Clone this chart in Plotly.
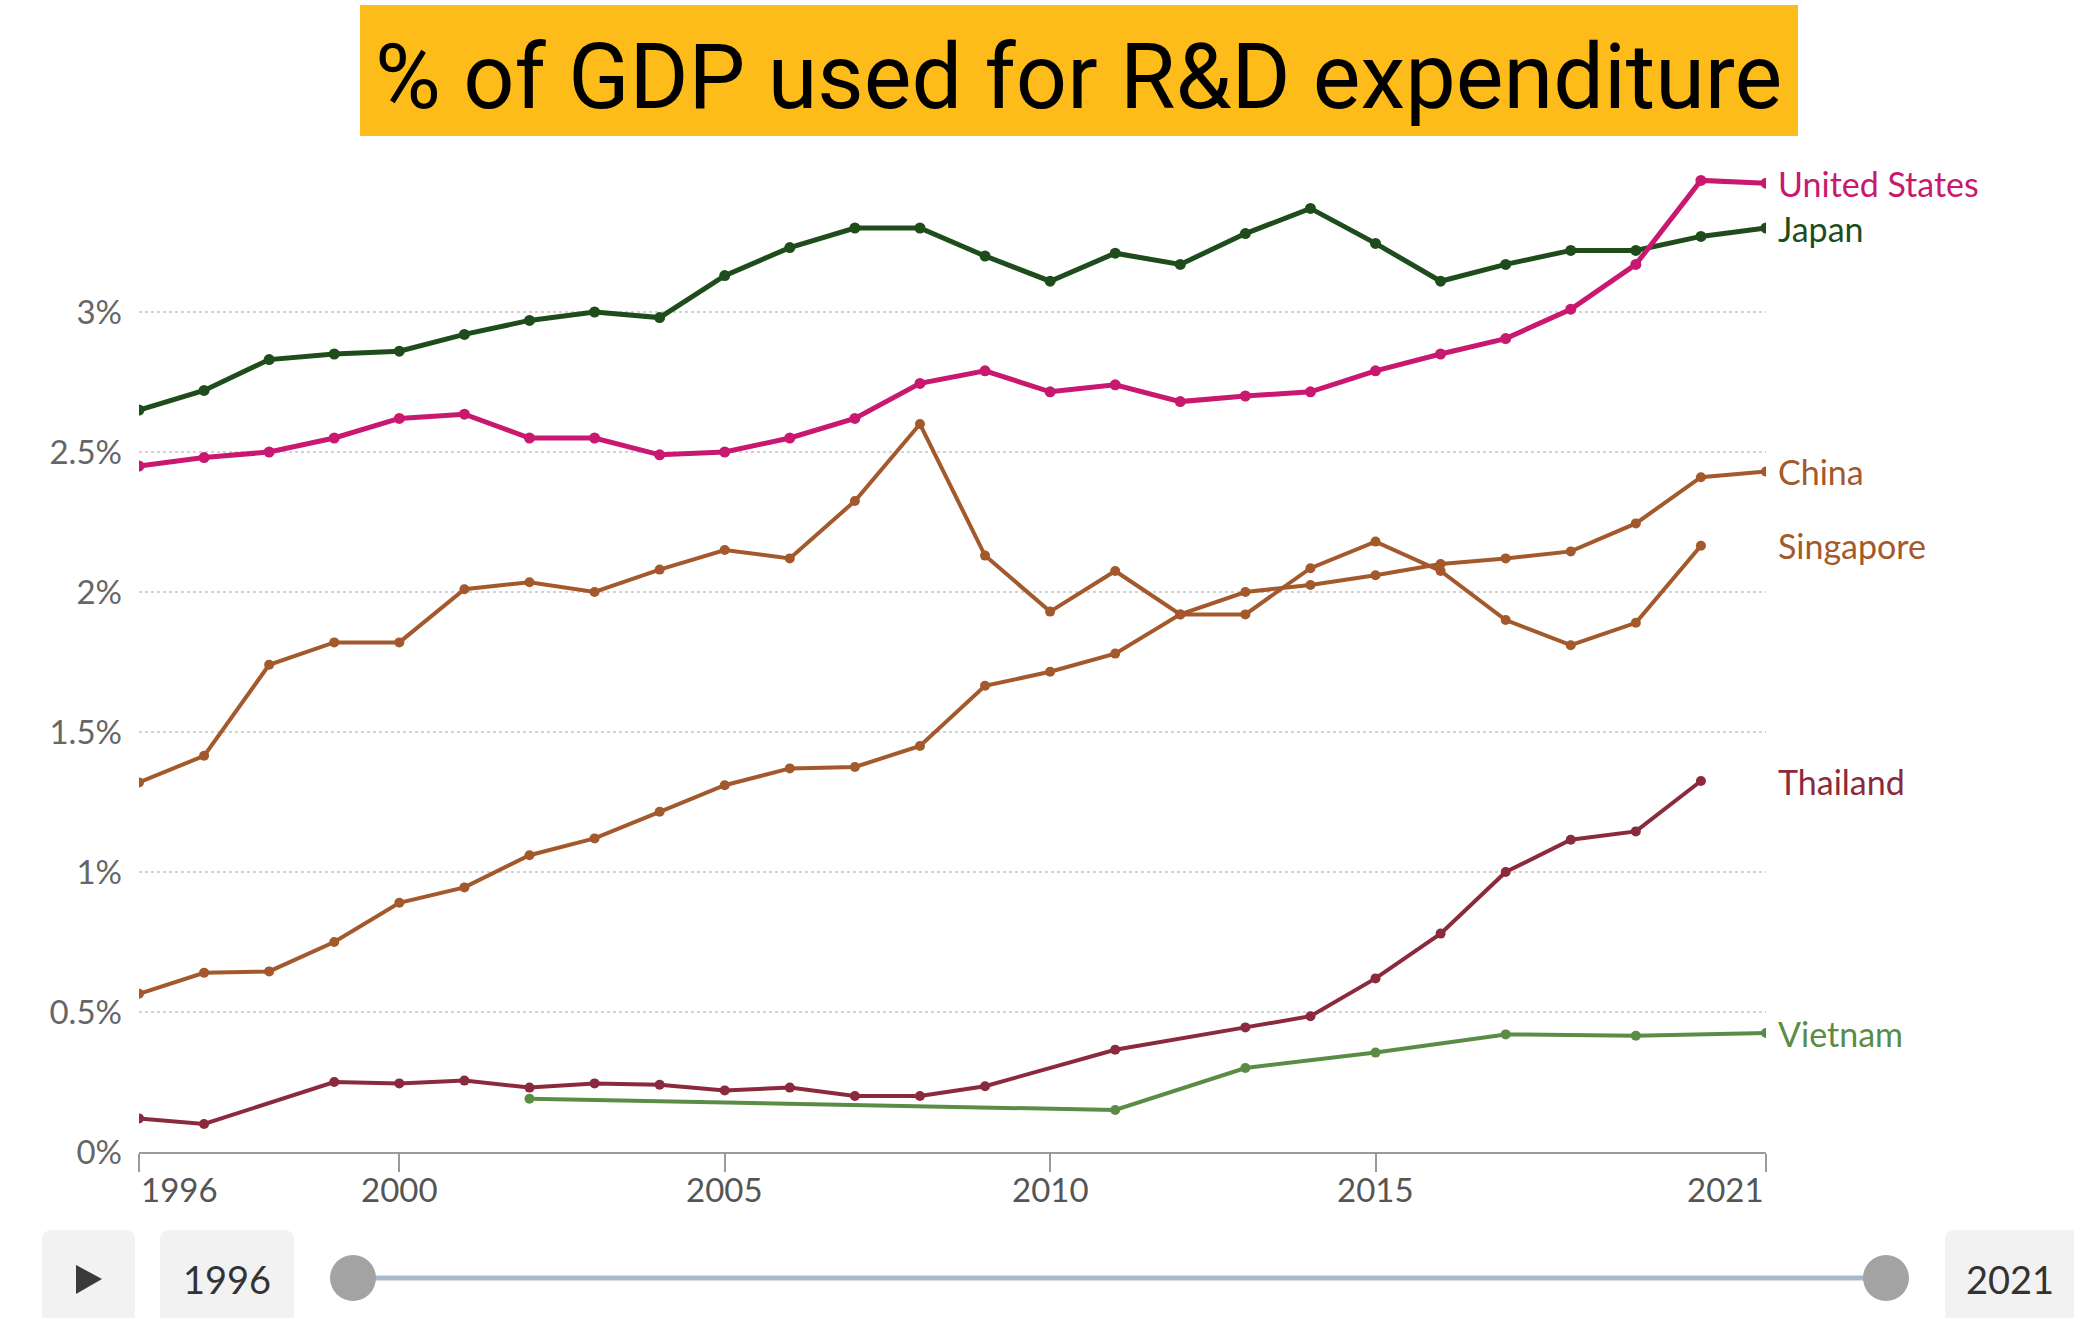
import plotly.graph_objects as go

years = list(range(1996, 2022))

japan = [2.65, 2.72, 2.83, 2.85, 2.86, 2.92, 2.97, 3.00, 2.98, 3.13, 3.23, 3.30, 3.30, 3.20, 3.11,
         3.21, 3.17, 3.28, 3.37, 3.245, 3.11, 3.17, 3.22, 3.22, 3.27, 3.30]
united_states = [2.45, 2.48, 2.50, 2.55, 2.62, 2.635, 2.55, 2.55, 2.49, 2.50, 2.55, 2.62, 2.745, 2.79, 2.715,
                 2.74, 2.68, 2.70, 2.715, 2.79, 2.85, 2.905, 3.01, 3.17, 3.47, 3.46]
china = [0.565, 0.64, 0.645, 0.75, 0.89, 0.945, 1.06, 1.12, 1.215, 1.31, 1.37, 1.375, 1.45, 1.665, 1.715,
         1.78, 1.92, 2.00, 2.025, 2.06, 2.10, 2.12, 2.145, 2.245, 2.41, 2.43]
singapore = [1.32, 1.415, 1.74, 1.82, 1.82, 2.01, 2.035, 2.00, 2.08, 2.15, 2.12, 2.325, 2.60, 2.13, 1.93,
             2.075, 1.92, 1.92, 2.085, 2.18, 2.075, 1.90, 1.81, 1.89, 2.165, None]
thailand = [0.12, 0.10, None, 0.25, 0.245, 0.255, 0.23, 0.245, 0.24, 0.22, 0.23, 0.20, 0.20, 0.235, None,
            0.365, None, 0.445, 0.485, 0.62, 0.78, 1.00, 1.115, 1.145, 1.325, None]
vietnam = [None, None, None, None, None, None, 0.19, None, None, None, None, None, None, None, None,
           0.15, None, 0.30, None, 0.355, None, 0.42, None, 0.415, None, 0.425]

series_names = ["Japan", "United States", "China", "Singapore", "Thailand", "Vietnam"]
series_values = [japan, united_states, china, singapore, thailand, vietnam]
series_colors = ["#1e4d1b", "#c8186f", "#a3592b", "#a3592b", "#8a2a3c", "#5b8c46"]
series_widths = [5, 5, 4, 4, 4, 4]

y_tickvals = [0, 0.5, 1, 1.5, 2, 2.5, 3]
y_ticktext = ["0%", "0.5%", "1%", "1.5%", "2%", "2.5%", "3%"]
x_tickvals = [1996, 2000, 2005, 2010, 2015, 2021]
x_ticktext = ["1996", "2000", "2005", "2010", "2015", "2021"]

title_text = "% of GDP used for R&D expenditure"
slider_start = "1996"
slider_end = "2021"

W, H = 2074, 1318
L, R, T, B = 139, 308, 158, 166
PW, PH = W - L - R, H - T - B


def px(x):
    return (x - L) / PW


def py(y):
    return (H - B - y) / PH


fig = go.Figure()

for name, vals, col, lw in zip(series_names, series_values, series_colors, series_widths):
    fig.add_trace(go.Scatter(
        x=years, y=vals, name=name, mode="lines+markers", connectgaps=True,
        line=dict(color=col, width=lw),
        marker=dict(color=col, size=11 if lw > 4 else 10),
        hoverinfo="skip", showlegend=False,
    ))
    last_i = max(i for i, v in enumerate(vals) if v is not None)
    fig.add_annotation(
        x=years[-1], y=vals[last_i], xref="x", yref="y", text=name,
        xanchor="left", yanchor="middle", xshift=10, showarrow=False,
        font=dict(family="Lato", size=34, color=col),
    )

# x tick labels
for v, t in zip(x_tickvals, x_ticktext):
    anchor = "left" if v == x_tickvals[0] else ("right" if v == x_tickvals[-1] else "center")
    fig.add_annotation(
        x=v, y=0, xref="x", yref="paper", text=t, xanchor=anchor, yanchor="top",
        yshift=-15, showarrow=False, font=dict(family="Lato", size=33, color="#555555"),
    )

shapes = []
# title box
shapes.append(dict(type="rect", xref="paper", yref="paper", x0=px(360), x1=px(1798),
                   y0=py(136), y1=py(5), fillcolor="#fdbc19", line=dict(width=0), layer="below"))


def rounded(x0, y0, x1, y1, r):
    return (f"M {px(x0 + r)} {py(y0)} L {px(x1 - r)} {py(y0)} Q {px(x1)} {py(y0)} {px(x1)} {py(y0 + r)} "
            f"L {px(x1)} {py(y1)} L {px(x0)} {py(y1)} L {px(x0)} {py(y0 + r)} Q {px(x0)} {py(y0)} {px(x0 + r)} {py(y0)} Z")


for (x0, x1) in [(42, 135), (160, 294), (1945, 2080)]:
    shapes.append(dict(type="path", xref="paper", yref="paper", path=rounded(x0, 1230, x1, 1320, 10),
                       fillcolor="#f2f2f2", line=dict(width=0)))
# play triangle
shapes.append(dict(type="path", xref="paper", yref="paper",
                   path=f"M {px(76)} {py(1265)} L {px(76)} {py(1294)} L {px(102)} {py(1279)} Z",
                   fillcolor="#3a3a3a", line=dict(width=0)))
# slider track
shapes.append(dict(type="line", xref="paper", yref="paper", x0=px(353), x1=px(1886), y0=py(1278), y1=py(1278),
                   line=dict(color="#a9b9c9", width=5)))
for cx in (353, 1886):
    shapes.append(dict(type="circle", xref="paper", yref="paper", x0=px(cx - 23), x1=px(cx + 23),
                       y0=py(1278 + 23), y1=py(1278 - 23), fillcolor="#a3a3a3", line=dict(width=0)))

fig.add_annotation(x=px(1078), y=py(77), xref="paper", yref="paper", text=title_text, showarrow=False,
                   xanchor="center", yanchor="middle", font=dict(family="Roboto", size=90, color="#000000"))
fig.add_annotation(x=px(227), y=py(1279), xref="paper", yref="paper", text=slider_start, showarrow=False,
                   xanchor="center", yanchor="middle", font=dict(family="Lato", size=38, color="#333333"))
fig.add_annotation(x=px(2010), y=py(1279), xref="paper", yref="paper", text=slider_end, showarrow=False,
                   xanchor="center", yanchor="middle", font=dict(family="Lato", size=38, color="#333333"))

fig.update_layout(
    width=W, height=H, margin=dict(l=L, r=R, t=T, b=B, autoexpand=False),
    paper_bgcolor="white", plot_bgcolor="white", shapes=shapes, hovermode=False,
    xaxis=dict(range=[1996, 2021], showgrid=False, zeroline=False, showline=True, linecolor="#9a9a9a",
               linewidth=2, ticks="outside", tickcolor="#9a9a9a", tickwidth=2, ticklen=18,
               tickvals=x_tickvals, showticklabels=False),
    yaxis=dict(range=[0, 3.55], tickvals=y_tickvals, ticktext=y_ticktext, showgrid=True,
               gridcolor="#d2d2d2", gridwidth=2, griddash="3px,3px", zeroline=False, showline=False,
               ticklabelstandoff=16, tickfont=dict(family="Lato", size=33, color="#666666")),
)

fig.write_html("out.html")
